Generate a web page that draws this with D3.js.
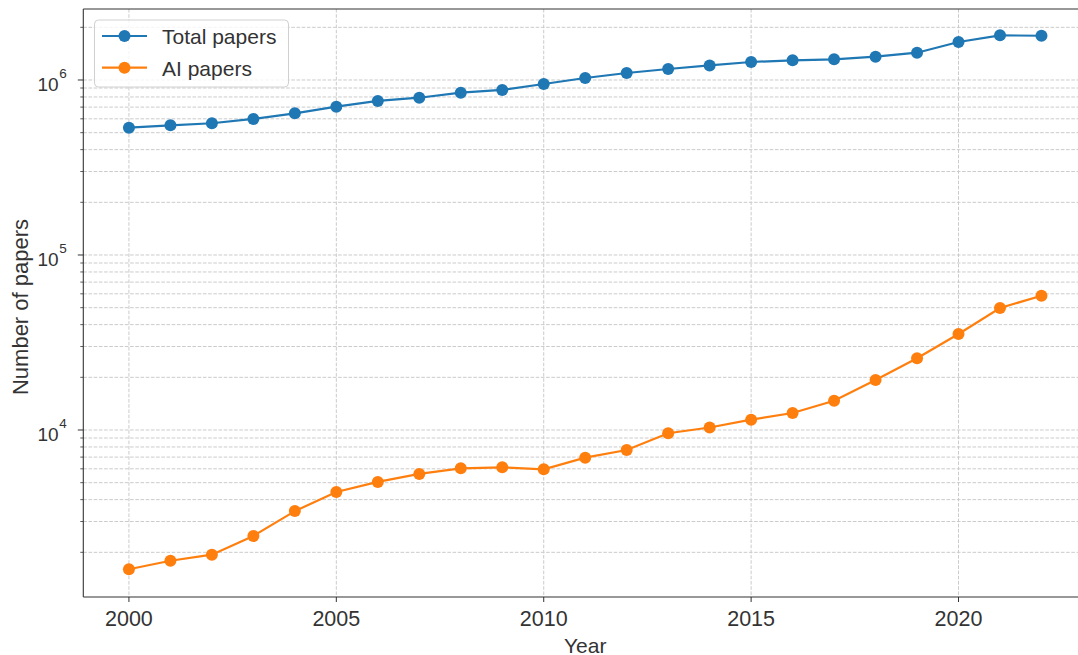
<!DOCTYPE html>
<html>
<head>
<meta charset="utf-8">
<script src="https://cdn.jsdelivr.net/npm/d3@7"></script>
<style>
  html, body { margin: 0; padding: 0; background: #fff; }
  svg { display: block; font-family: "Liberation Sans", Arial, Helvetica, sans-serif; }
</style>
</head>
<body>
<svg id="chart" width="1078" height="655"></svg>
<script>
// Publication counts per year (log scale)
const years = [2000, 2001, 2002, 2003, 2004, 2005, 2006, 2007, 2008, 2009, 2010,
               2011, 2012, 2013, 2014, 2015, 2016, 2017, 2018, 2019, 2020, 2021, 2022];
const totalPapers = [534000, 551000, 566000, 599000, 645000, 704000, 759000, 792000, 846000,
                     877000, 949000, 1027000, 1096000, 1156000, 1212000, 1267000, 1296000,
                     1313000, 1359000, 1432000, 1649000, 1800000, 1790000];
const aiPapers = [1600, 1790, 1940, 2480, 3440, 4420, 5050, 5610, 6040, 6120, 5960,
                  6950, 7690, 9580, 10330, 11450, 12510, 14700, 19310, 25690, 35380, 49800, 58530];
const seriesNames = ["Total papers", "AI papers"];
const xTickValues = [2000, 2005, 2010, 2015, 2020];
const yMajorExponents = [4, 5, 6];

const colors = ["#1f77b4", "#ff7f0e"];
const textColor = "#333333";
const gridColor = "#cbcbcb";

const svg = d3.select("#chart");
const plotL = 83.3, plotR = 1087.1, plotT = 9, plotB = 597;

const x = d3.scaleLinear().domain([1998.9, 2023.1]).range([plotL, plotR]);
const y = d3.scaleLog().domain([1111, 2.545e6]).range([plotB, plotT]);

// Minor tick values 2..9 x 10^k inside the domain
const [yLo, yHi] = y.domain();
const yMinor = [];
for (let e = 3; e <= 6; e++) {
  for (let m = 2; m <= 9; m++) {
    const v = m * Math.pow(10, e);
    if (v >= yLo && v <= yHi) yMinor.push(v);
  }
}
const yMajor = yMajorExponents.map(e => Math.pow(10, e));

// Grid
const grid = svg.append("g").attr("stroke", gridColor).attr("stroke-width", 1)
  .attr("stroke-dasharray", "3.6,1.6").attr("fill", "none");
grid.selectAll("line.hy").data(yMajor.concat(yMinor)).join("line")
  .attr("x1", plotL).attr("x2", plotR)
  .attr("y1", d => y(d)).attr("y2", d => y(d));
grid.selectAll("line.vx").data(xTickValues).enter().append("line")
  .attr("x1", d => x(d)).attr("x2", d => x(d))
  .attr("y1", plotT).attr("y2", plotB);

// Series
const series = [totalPapers, aiPapers];
const line = d3.line().x((d, i) => x(years[i])).y(d => y(d));
series.forEach((vals, si) => {
  const g = svg.append("g");
  g.append("path").datum(vals).attr("d", line)
    .attr("fill", "none").attr("stroke", colors[si]).attr("stroke-width", 2.2);
  g.selectAll("circle").data(vals).join("circle")
    .attr("cx", (d, i) => x(years[i])).attr("cy", d => y(d))
    .attr("r", 6).attr("fill", colors[si]);
});

// Spines
const spines = svg.append("g").attr("stroke", textColor).attr("stroke-width", 1.1);
spines.append("line").attr("x1", plotL).attr("x2", plotL).attr("y1", plotT).attr("y2", plotB);
spines.append("line").attr("x1", plotL).attr("x2", plotR + 10).attr("y1", plotT).attr("y2", plotT);
spines.append("line").attr("x1", plotL).attr("x2", plotR + 10).attr("y1", plotB).attr("y2", plotB);

// X axis ticks and labels
const xAxis = svg.append("g");
xAxis.selectAll("line").data(xTickValues).join("line")
  .attr("x1", d => x(d)).attr("x2", d => x(d))
  .attr("y1", plotB).attr("y2", plotB + 5)
  .attr("stroke", textColor).attr("stroke-width", 1);
xAxis.selectAll("text").data(xTickValues).join("text")
  .attr("x", d => x(d)).attr("y", 625.5)
  .attr("text-anchor", "middle").attr("font-size", 21.5).attr("fill", textColor)
  .text(d => d);

// Y axis ticks and labels (10^k)
const yAxis = svg.append("g");
yAxis.selectAll("line.maj").data(yMajor).enter().append("line")
  .attr("x1", plotL - 5.5).attr("x2", plotL)
  .attr("y1", d => y(d)).attr("y2", d => y(d))
  .attr("stroke", textColor).attr("stroke-width", 1);
yAxis.selectAll("line.min").data(yMinor).enter().append("line")
  .attr("x1", plotL - 3).attr("x2", plotL)
  .attr("y1", d => y(d)).attr("y2", d => y(d))
  .attr("stroke", textColor).attr("stroke-width", 0.8);
const yLabels = yAxis.selectAll("text").data(yMajorExponents).join("text")
  .attr("x", 37.5).attr("y", d => y(Math.pow(10, d)) + 11)
  .attr("text-anchor", "start").attr("font-size", 19).attr("fill", textColor);
yLabels.append("tspan").text("10");
yLabels.append("tspan").attr("dy", -12.5).attr("dx", 0.5).attr("font-size", 13.5).text(d => d);

// Axis titles
svg.append("text").attr("x", (plotL + plotR) / 2).attr("y", 652.5)
  .attr("text-anchor", "middle").attr("font-size", 21).attr("fill", textColor).text("Year");
svg.append("text")
  .attr("transform", `translate(27.5,${(plotT + plotB) / 2 + 4}) rotate(-90)`)
  .attr("text-anchor", "middle").attr("font-size", 22).attr("fill", textColor)
  .text("Number of papers");

// Legend
const legend = svg.append("g");
legend.append("rect").attr("x", 94.5).attr("y", 20).attr("width", 194).attr("height", 67)
  .attr("rx", 4).attr("fill", "#fff").attr("fill-opacity", 0.8)
  .attr("stroke", "#d0d0d0").attr("stroke-width", 1);
const rowsY = [36, 67.7];
seriesNames.forEach((name, i) => {
  legend.append("line").attr("x1", 102).attr("x2", 147)
    .attr("y1", rowsY[i]).attr("y2", rowsY[i])
    .attr("stroke", colors[i]).attr("stroke-width", 2.2);
  legend.append("circle").attr("cx", 124.5).attr("cy", rowsY[i]).attr("r", 6).attr("fill", colors[i]);
  legend.append("text").attr("x", 162).attr("y", rowsY[i] + 8)
    .attr("font-size", 21).attr("fill", textColor).text(name);
});
</script>
</body>
</html>
